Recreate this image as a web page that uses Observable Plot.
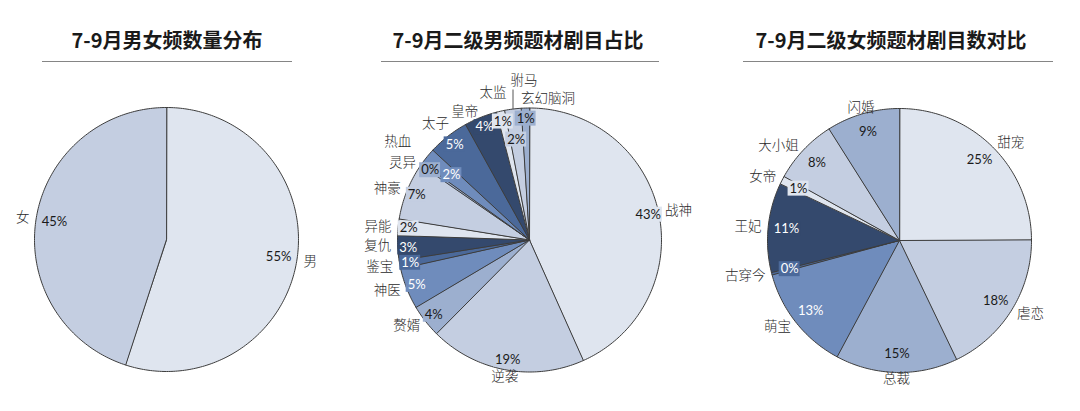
<!DOCTYPE html>
<html><head><meta charset="utf-8">
<script src="https://cdn.jsdelivr.net/npm/d3@7"></script>
<script src="https://cdn.jsdelivr.net/npm/@observablehq/plot@0.6"></script>
<style>
body{margin:0;background:#fff;}
#wrap{position:relative;width:1080px;height:411px;overflow:hidden;background:#fff;}
.title{position:absolute;top:26px;width:400px;font:bold 20px "Noto Sans CJK SC","Noto Sans",sans-serif;color:#1a1a1a;text-align:center;line-height:28px;white-space:nowrap;}
.rule{position:absolute;top:61px;height:0;border-top:1.5px solid #858585;}
.pie{position:absolute;top:80px;}
</style></head><body><div id="wrap"></div>
<script>
// ---- data ----
const titles = ["7-9月男女频数量分布", "7-9月二级男频题材剧目占比", "7-9月二级女频题材剧目数对比"];

const genderCats = ["男", "女"];
const genderVals = [55, 45];

const maleCats = ["战神","逆袭","赘婿","神医","鉴宝","复仇","异能","神豪","灵异","热血","太子","皇帝","太监","驸马","玄幻脑洞"];
const maleVals = [43, 19, 4, 5, 1, 3, 2, 7, 0.3, 2, 5, 4, 1, 2, 1];

const femaleCats = ["甜宠","虐恋","总裁","萌宝","古穿今","王妃","女帝","大小姐","闪婚"];
const femaleVals = [25, 18, 15, 13, 0.3, 11, 1, 8, 9];

// ---- styling / layout ----
const palette = ["#dfe5ef", "#c4cee1", "#9cafcf", "#6f8cbc", "#4b699a", "#34496d"];
const textOnSlice = ["#1a1a1a", "#1a1a1a", "#1a1a1a", "#ffffff", "#ffffff", "#ffffff"];

const layout = [
  {left: 0,   cx: 166, cy: 159, titleC: 167, rule: [42, 292],   pr: 0.86, nr: 1.05, nudgeP: {}, nudgeN: {}, leader: []},
  {left: 360, cx: 169, cy: 159.5, titleC: 518, rule: [381, 659], pr: 0.92, nr: 1.05,
    nudgeP: {"热血": [16, 12], "驸马": [2, 20]},
    nudgeN: {"热血": [-11, -11], "灵异": [0, 2], "复仇": [0, -3], "鉴宝": [0, 1], "太子": [5, -7], "太监": [-6, -12], "驸马": [12, -22], "玄幻脑洞": [23, -3]},
    leader: ["驸马"]},
  {left: 720, cx: 179, cy: 160, titleC: 891, rule: [743, 1053], pr: 0.86, nr: 1.05, nudgeP: {}, nudgeN: {}, leader: []}
];
const W = 360, H = 331, R = 132;

const wrap = document.getElementById("wrap");

function pieChart(cats, vals, L) {
  const arcs = d3.pie().sort(null).value(d => d)(vals);
  const total = d3.sum(vals);
  const marks = [];
  arcs.forEach((a, i) => {
    const pts = [{x: 0, y: 0}];
    const n = Math.max(2, Math.ceil((a.endAngle - a.startAngle) / (Math.PI / 180)));
    for (let k = 0; k <= n; k++) {
      const t = a.startAngle + (a.endAngle - a.startAngle) * k / n;
      pts.push({x: Math.sin(t), y: Math.cos(t)});
    }
    marks.push(Plot.line(pts, {x: "x", y: "y", fill: palette[i % 6], stroke: "#3d3d3d", strokeWidth: 1, curve: "linear-closed"}));
  });
  const labels = arcs.map((a, i) => {
    const m = (a.startAngle + a.endAngle) / 2, s = Math.sin(m), c = Math.cos(m);
    const np = L.nudgeP[cats[i]] || [0, 0], nn = L.nudgeN[cats[i]] || [0, 0];
    const pct = Math.round(vals[i] / total * 100) + "%";
    return {
      cat: cats[i], pct, s, c,
      px: s * L.pr + np[0] / R, py: c * L.pr - np[1] / R,
      nx: s * L.nr + nn[0] / R, ny: c * L.nr - nn[1] / R,
      anchor: Math.abs(s) < 0.3 ? "middle" : (s > 0 ? "start" : "end"),
      fill: palette[i % 6], tc: textOnSlice[i % 6],
      w: ((pct.length - 1) * 7.4 + 10.5 + 3) / R, h: 15 / R
    };
  });
  // leader lines
  const leaders = labels.filter(d => L.leader.includes(d.cat));
  marks.push(Plot.link(leaders, {x1: d => d.nx - 11 / R, y1: d => d.ny - 9 / R, x2: d => d.nx - 11 / R, y2: d => Math.sqrt(1 - (d.nx - 11 / R) ** 2), stroke: "#555", strokeWidth: 1}));
  // percent label boxes + text
  marks.push(Plot.rect(labels, {x1: d => d.px - d.w / 2, x2: d => d.px + d.w / 2, y1: d => d.py - d.h / 2, y2: d => d.py + d.h / 2, fill: "fill"}));
  marks.push(Plot.text(labels, {x: "px", y: "py", text: "pct", fill: "tc", fontSize: 13, fontFamily: "Lato, 'Open Sans', sans-serif"}));
  for (const an of ["start", "middle", "end"]) {
    marks.push(Plot.text(labels.filter(d => d.anchor === an), {x: "nx", y: "ny", text: "cat", textAnchor: an, fontSize: 13.5, fill: "#2a2a2a", fontFamily: "'Noto Sans CJK SC', sans-serif", fontWeight: 300}));
  }
  return Plot.plot({
    width: W, height: H, margin: 0,
    x: {domain: [-L.cx / R, (W - L.cx) / R], axis: null},
    y: {domain: [-(H - L.cy) / R, L.cy / R], axis: null},
    color: {type: "identity"},
    style: {overflow: "visible", background: "transparent"},
    marks
  });
}

const sets = [[genderCats, genderVals], [maleCats, maleVals], [femaleCats, femaleVals]];
sets.forEach(([cats, vals], k) => {
  const L = layout[k];
  const t = document.createElement("div");
  t.className = "title"; t.textContent = titles[k];
  t.style.left = (L.titleC - 200) + "px";
  wrap.appendChild(t);
  const r = document.createElement("div");
  r.className = "rule"; r.style.left = L.rule[0] + "px"; r.style.width = (L.rule[1] - L.rule[0]) + "px";
  wrap.appendChild(r);
  const p = pieChart(cats, vals, L);
  p.classList.add("pie");
  p.style.left = L.left + "px";
  wrap.appendChild(p);
});
</script></body></html>
